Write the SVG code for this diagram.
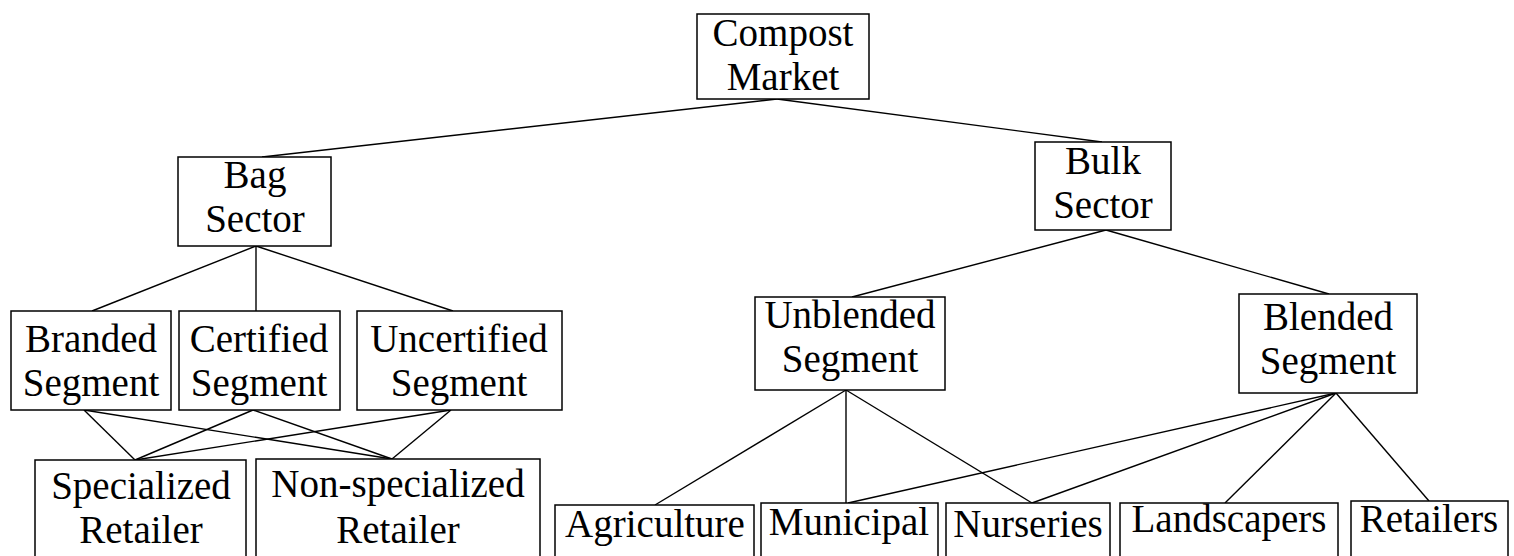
<svg xmlns="http://www.w3.org/2000/svg" width="1514" height="556" viewBox="0 0 1514 556">
<style>
rect{fill:#fff;stroke:#000;stroke-width:1.5}
text{font-family:'Liberation Serif','Times New Roman',Times,serif;font-size:39px;text-anchor:middle;fill:#000}
#connectors line{stroke:#000;stroke-width:1.4}
</style>
<rect x="0" y="0" width="1514" height="556" style="stroke:none"/>
<g id="connectors">
<line x1="777" y1="99" x2="262" y2="157"/>
<line x1="777" y1="99" x2="1102" y2="142"/>
<line x1="256" y1="246" x2="92" y2="311"/>
<line x1="256" y1="246" x2="256" y2="311"/>
<line x1="256" y1="246" x2="453" y2="311"/>
<line x1="84" y1="410" x2="135" y2="460"/>
<line x1="84" y1="410" x2="392" y2="459"/>
<line x1="253" y1="410" x2="135" y2="460"/>
<line x1="253" y1="410" x2="392" y2="459"/>
<line x1="451" y1="410" x2="135" y2="460"/>
<line x1="451" y1="410" x2="392" y2="459"/>
<line x1="1106" y1="230" x2="852" y2="297"/>
<line x1="1106" y1="230" x2="1329" y2="294"/>
<line x1="846" y1="390" x2="655" y2="505"/>
<line x1="846" y1="390" x2="846" y2="503"/>
<line x1="846" y1="390" x2="1032" y2="503"/>
<line x1="1336" y1="393" x2="848" y2="503"/>
<line x1="1336" y1="393" x2="1032" y2="503"/>
<line x1="1336" y1="393" x2="1225" y2="503"/>
<line x1="1336" y1="393" x2="1429" y2="501"/>
</g>
<g id="compost-market"><rect x="697" y="14" width="172" height="85"/><text x="783" y="46">Compost</text><text x="783" y="90">Market</text></g>
<g id="bag-sector"><rect x="178" y="157" width="153" height="89"/><text x="255" y="188">Bag</text><text x="255" y="232">Sector</text></g>
<g id="bulk-sector"><rect x="1035" y="142" width="136" height="88"/><text x="1103" y="174">Bulk</text><text x="1103" y="218">Sector</text></g>
<g id="branded-segment"><rect x="11" y="311" width="160" height="99"/><text x="91" y="352">Branded</text><text x="91" y="396">Segment</text></g>
<g id="certified-segment"><rect x="179" y="311" width="161" height="99"/><text x="259" y="352">Certified</text><text x="259" y="396">Segment</text></g>
<g id="uncertified-segment"><rect x="357" y="311" width="205" height="99"/><text x="459" y="352">Uncertified</text><text x="459" y="396">Segment</text></g>
<g id="specialized-retailer"><rect x="35" y="460" width="211" height="100"/><text x="141" y="499">Specialized</text><text x="141" y="543">Retailer</text></g>
<g id="non-specialized-retailer"><rect x="256" y="459" width="284" height="101"/><text x="398" y="497">Non-specialized</text><text x="398" y="543">Retailer</text></g>
<g id="unblended-segment"><rect x="755" y="297" width="190" height="93"/><text x="850" y="328">Unblended</text><text x="850" y="372">Segment</text></g>
<g id="blended-segment"><rect x="1239" y="294" width="178" height="99"/><text x="1328" y="330">Blended</text><text x="1328" y="374">Segment</text></g>
<g id="agriculture"><rect x="555" y="505" width="199" height="55"/><text x="655" y="537">Agriculture</text></g>
<g id="municipal"><rect x="761" y="503" width="177" height="57"/><text x="849" y="535">Municipal</text></g>
<g id="nurseries"><rect x="946" y="503" width="164" height="57"/><text x="1028" y="537">Nurseries</text></g>
<g id="landscapers"><rect x="1120" y="503" width="218" height="57"/><text x="1229" y="532">Landscapers</text></g>
<g id="retailers"><rect x="1351" y="501" width="157" height="59"/><text x="1429" y="532">Retailers</text></g>
</svg>
